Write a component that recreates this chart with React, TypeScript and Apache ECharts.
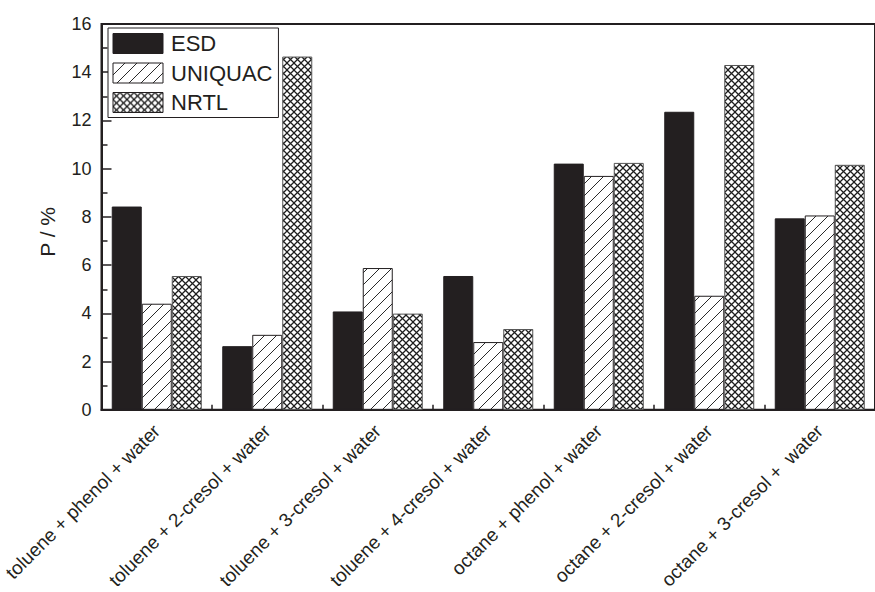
import React, { useEffect, useRef } from "react";
import * as echarts from "echarts";

const categories = [
  "toluene + phenol + water",
  "toluene + 2-cresol + water",
  "toluene + 3-cresol + water",
  "toluene + 4-cresol + water",
  "octane + phenol + water",
  "octane + 2-cresol + water",
  "octane + 3-cresol +  water",
];
const esd = [8.43, 2.64, 4.08, 5.55, 10.21, 12.36, 7.94];
const uniquac = [4.4, 3.11, 5.88, 2.81, 9.7, 4.73, 8.06];
const nrtl = [5.55, 14.65, 3.99, 3.35, 10.24, 14.3, 10.16];
const seriesNames = ["ESD", "UNIQUAC", "NRTL"];
const yTicks = [0, 2, 4, 6, 8, 10, 12, 14, 16];

const INK = "#231f20";
const FONT = "'Liberation Sans', Arial, Helvetica, sans-serif";

function makeHatch(): HTMLCanvasElement {
  const s = 12;
  const c = document.createElement("canvas");
  c.width = s;
  c.height = s;
  const g = c.getContext("2d")!;
  g.fillStyle = "#ffffff";
  g.fillRect(0, 0, s, s);
  g.strokeStyle = "#2a2a2a";
  g.lineWidth = 1;
  g.beginPath();
  g.moveTo(-2, s + 2);
  g.lineTo(s + 2, -2);
  g.moveTo(-2, 2);
  g.lineTo(2, -2);
  g.moveTo(s - 2, s + 2);
  g.lineTo(s + 2, s - 2);
  g.stroke();
  return c;
}

function makeCross(): HTMLCanvasElement {
  const s = 7;
  const c = document.createElement("canvas");
  c.width = s;
  c.height = s;
  const g = c.getContext("2d")!;
  g.fillStyle = "#ffffff";
  g.fillRect(0, 0, s, s);
  g.strokeStyle = "#1e1e1e";
  g.lineWidth = 1.25;
  g.beginPath();
  g.moveTo(-1, -1);
  g.lineTo(s + 1, s + 1);
  g.moveTo(-1, s + 1);
  g.lineTo(s + 1, -1);
  g.stroke();
  return c;
}

export default function App() {
  const ref = useRef<HTMLDivElement>(null);
  useEffect(() => {
    if (!ref.current) return;
    const chart = echarts.init(ref.current, undefined, { renderer: "svg" });
    const hatch = makeHatch();
    const cross = makeCross();
    const fills: any[] = [
      INK,
      { image: hatch, repeat: "repeat" },
      { image: cross, repeat: "repeat" },
    ];
    const datas = [esd, uniquac, nrtl];
    chart.setOption({
      animation: false,
      backgroundColor: "#ffffff",
      textStyle: { fontFamily: FONT, color: INK },
      grid: {
        left: 101.5,
        top: 24,
        width: 784,
        height: 389.5,
        show: true,
        borderColor: INK,
        borderWidth: 2,
        backgroundColor: "transparent",
      },
      legend: {
        orient: "vertical",
        left: 108,
        top: 28,
        padding: [4.5, 6, 4, 4.5],
        itemWidth: 50,
        itemHeight: 20,
        itemGap: 7.5,
        icon: "rect",
        borderColor: INK,
        borderWidth: 1,
        backgroundColor: "#ffffff",
        itemStyle: { borderColor: INK, borderWidth: 1 },
        textStyle: {
          fontSize: 22,
          color: INK,
          fontFamily: FONT,
          lineHeight: 20,
          padding: [0, 0, 0, 3],
        },
        data: seriesNames,
      },
      xAxis: {
        type: "category",
        data: categories,
        axisLine: { show: true, lineStyle: { color: INK, width: 2 } },
        axisTick: {
          show: true,
          inside: true,
          length: 5,
          alignWithLabel: false,
          lineStyle: { color: INK, width: 1.5 },
        },
        axisLabel: {
          rotate: 45,
          interval: 0,
          margin: 18,
          fontSize: 19,
          color: INK,
          fontFamily: FONT,
        },
        splitLine: { show: false },
      },
      yAxis: {
        type: "value",
        min: yTicks[0],
        max: yTicks[yTicks.length - 1],
        interval: 2,
        name: "P / %",
        nameLocation: "middle",
        nameGap: 44,
        nameTextStyle: {
          fontSize: 21,
          color: INK,
          fontFamily: FONT,
          padding: [0, 30, 0, 0],
        },
        axisLine: { show: true, lineStyle: { color: INK, width: 2 } },
        axisTick: {
          show: true,
          inside: true,
          length: 10,
          lineStyle: { color: INK, width: 1.5 },
        },
        minorTick: {
          show: true,
          splitNumber: 2,
          length: 6,
          lineStyle: { color: INK, width: 1.5 },
        },
        axisLabel: {
          margin: 10,
          fontSize: 18,
          color: INK,
          fontFamily: FONT,
        },
        splitLine: { show: false },
      },
      series: seriesNames.map((name, i) => ({
        name,
        type: "bar",
        data: datas[i],
        barWidth: 30,
        barGap: "0%",
        itemStyle: {
          color: fills[i],
          borderColor: i === 2 ? "#555555" : INK,
          borderWidth: 1,
        },
      })),
    });
    return () => chart.dispose();
  }, []);
  return (
    <div
      ref={ref}
      style={{ position: "fixed", left: 0, top: 0, width: 875, height: 592 }}
    />
  );
}
